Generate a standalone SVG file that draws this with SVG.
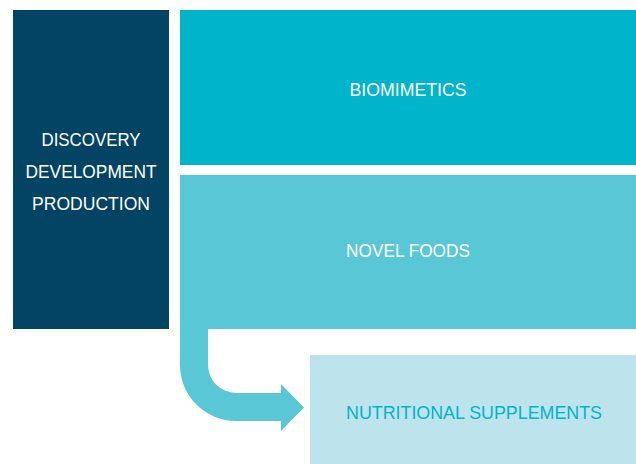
<svg xmlns="http://www.w3.org/2000/svg" width="636" height="464" viewBox="0 0 636 464">
<style>
text{font-family:"Liberation Sans",Arial,sans-serif;font-size:19px;text-anchor:middle;}
.w{fill:#ffffff;}
.c{fill:#00b4cb;}
</style>
<rect width="636" height="464" fill="#ffffff"/>
<g id="connectors">
<path d="M180 329 H208 V365 A28 28 0 0 0 236 393 H281 V384 L304 407.5 L281 431 V421 H236 A56 56 0 0 1 180 365 Z" fill="#5ac7d7"/>
</g>
<g id="discovery">
<rect x="13" y="10" width="156" height="319" fill="#034363"/>
<text class="w" x="91" y="146" textLength="99" lengthAdjust="spacingAndGlyphs">DISCOVERY</text>
<text class="w" x="91" y="178" textLength="131" lengthAdjust="spacingAndGlyphs">DEVELOPMENT</text>
<text class="w" x="91" y="210" textLength="118" lengthAdjust="spacingAndGlyphs">PRODUCTION</text>
</g>
<g id="biomimetics">
<rect x="180" y="10" width="456" height="155" fill="#00b4cb"/>
<text class="w" x="408" y="96" textLength="117" lengthAdjust="spacingAndGlyphs">BIOMIMETICS</text>
</g>
<g id="novel-foods">
<rect x="180" y="175" width="456" height="154" fill="#5ac7d7"/>
<text class="w" x="408" y="257" textLength="124" lengthAdjust="spacingAndGlyphs">NOVEL FOODS</text>
</g>
<g id="nutritional-supplements">
<rect x="310" y="355" width="326" height="109" fill="#bde4ec"/>
<text class="c" x="474" y="419" textLength="256" lengthAdjust="spacingAndGlyphs">NUTRITIONAL SUPPLEMENTS</text>
</g>
</svg>
